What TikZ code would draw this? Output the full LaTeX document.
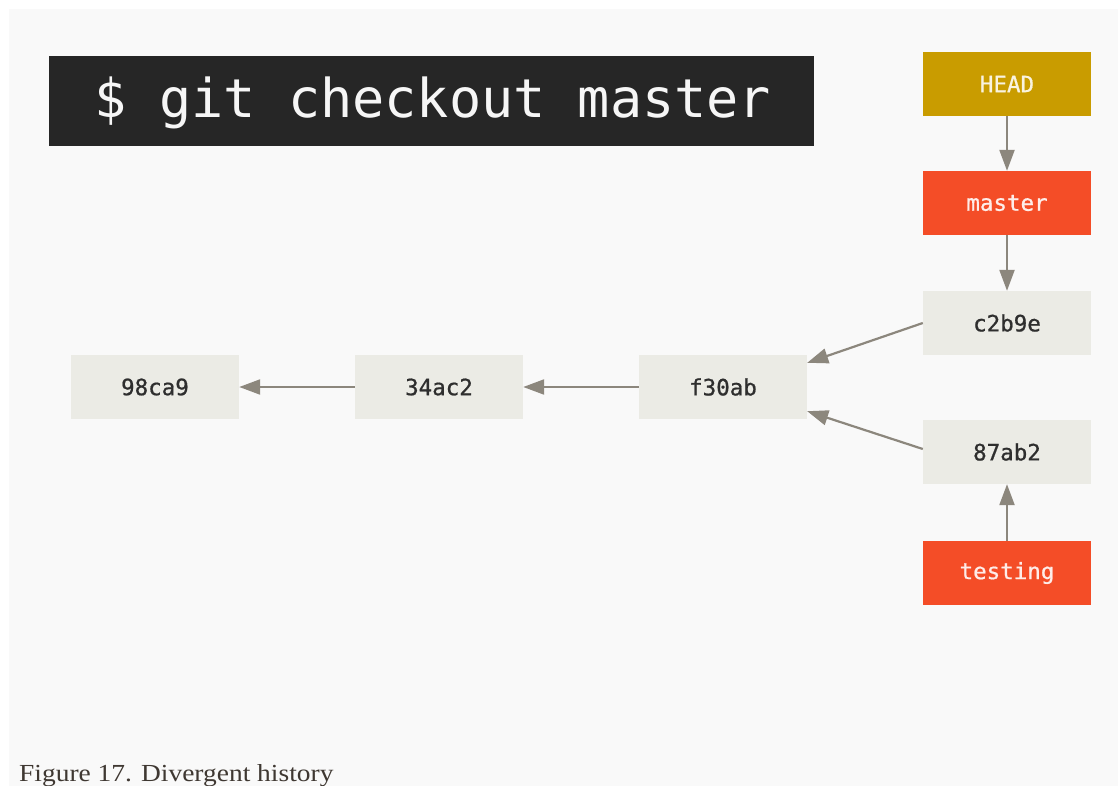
\documentclass[tikz,border=0pt]{standalone}
\usepackage{fontspec}
\setmonofont{DejaVu Sans Mono}
\newfontfamily\boxfont[FakeBold=0.8]{DejaVu Sans Mono}
\newfontfamily\captionfont[FakeStretch=1.12]{Liberation Serif}
\usetikzlibrary{arrows.meta}
\definecolor{panelbg}{HTML}{F9F9F9}
\definecolor{termbg}{HTML}{262626}
\definecolor{headfill}{HTML}{C99C00}
\definecolor{branchfill}{HTML}{F44D27}
\definecolor{commitfill}{HTML}{EBEBE5}
\definecolor{committext}{HTML}{2E2E2E}
\definecolor{linkgray}{HTML}{8C877D}
\definecolor{captiontext}{HTML}{3F3832}
\tikzset{
  box/.style={rectangle, minimum width=168pt, minimum height=64pt, inner sep=0pt,
              font=\boxfont\fontsize{22.5}{26}\selectfont},
  commit/.style={box, fill=commitfill, text=committext},
  branch/.style={box, fill=branchfill, text=white!90!branchfill},
  headref/.style={box, fill=headfill, text=white!88!headfill},
  link/.style={draw=linkgray, line width=2.2pt,
               -{Triangle[length=21pt,width=15pt,fill=linkgray]}}
}
\begin{document}
\begin{tikzpicture}[x=1pt,y=-1pt]
  \useasboundingbox (0,0) rectangle (1118,786);
  \fill[white] (0,0) rectangle (1118,786);
  \fill[panelbg] (9,9) rectangle (1118,786);

  % terminal banner
  \fill[termbg] (49,56) rectangle (814,146);
  \node[text=white!96!termbg, font=\ttfamily\fontsize{53.5}{60}\selectfont, inner sep=0pt]
    (cmd) at (433,103) {\$ git checkout master};

  % references
  \node[headref] (head) at (1007,84) {HEAD};
  \node[branch] (master) at (1007,203) {master};
  \node[branch] (testing) at (1007,573) {testing};

  % commits
  \node[commit] (c2b9e) at (1007,323) {c2b9e};
  \node[commit] (c87ab2) at (1007,452) {87ab2};
  \node[commit] (f30ab) at (723,387) {f30ab};
  \node[commit] (c34ac2) at (439,387) {34ac2};
  \node[commit] (c98ca9) at (155,387) {98ca9};

  % pointers
  \draw[link] (head.south) -- (master.north);
  \draw[link] (master.south) -- (c2b9e.north);
  \draw[link] (testing.north) -- (c87ab2.south);
  \draw[link] (c2b9e.west) -- ([yshift=-8pt]f30ab.north east);
  \draw[link] ([yshift=3pt]c87ab2.west) -- ([yshift=8pt]f30ab.south east);
  \draw[link] (f30ab.west) -- (c34ac2.east);
  \draw[link] (c34ac2.west) -- (c98ca9.east);

  % caption
  \node[anchor=base west, inner sep=0pt, text=captiontext,
        font=\captionfont\fontsize{24.5}{28}\selectfont] (caption) at (19,781) {Figure 17. Divergent history};
\end{tikzpicture}
\end{document}
